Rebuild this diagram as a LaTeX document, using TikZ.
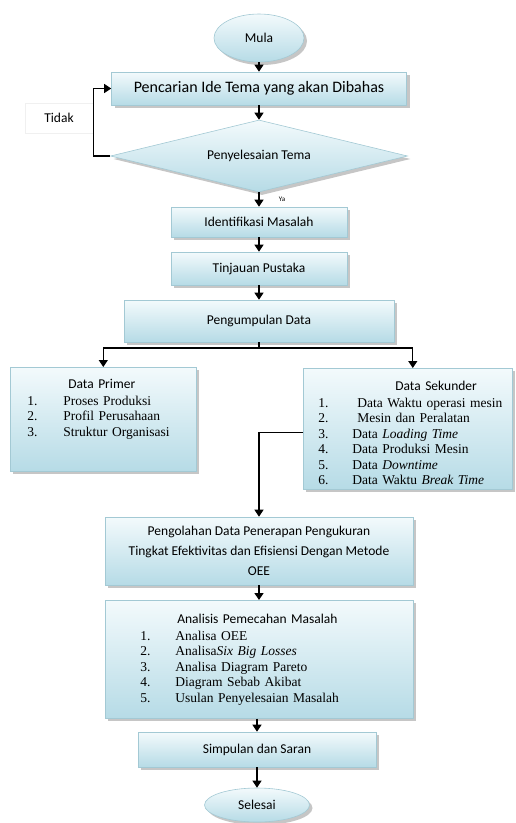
\documentclass[tikz,border=0pt]{standalone}
\usepackage{fontspec}
\setmainfont{Carlito}
\newfontfamily\tms{Liberation Serif}
\usetikzlibrary{arrows.meta,shapes.geometric,shadows}

\definecolor{boxtop}{HTML}{F3FAFC}
\definecolor{boxbot}{HTML}{B6DBE6}
\definecolor{boxline}{HTML}{A3C9D4}

% numbered line inside a box
\newcommand\itm[3][34pt]{\makebox[#1][l]{\tms #2}\mbox{\tms #3}}

\begin{document}
\begin{tikzpicture}[x=1pt,y=-1pt,
  font=\fontsize{13.5}{15.5}\selectfont,
  box/.style={draw=boxline,line width=0.6pt,top color=boxtop,bottom color=boxbot,
    drop shadow={shadow xshift=3pt,shadow yshift=-3pt,opacity=0.45}},
  listbox/.style={box,anchor=north west,inner ysep=0pt,align=left},
  flow/.style={-{Triangle[length=7pt,width=9pt]},line width=1.3pt}]
  \useasboundingbox (0,0) rectangle (515,823);

  \node[box,ellipse,minimum width=90pt,minimum height=48pt]   (MUL) at (259,38)    {Mula};
  \node[box,minimum width=295pt,minimum height=33pt,font=\fontsize{16}{18}\selectfont] (PIT) at (259,88.5) {Pencarian Ide Tema yang akan Dibahas};
  \node[box,diamond,aspect=4,minimum width=297pt,minimum height=72pt] (PT) at (259,156) {Penyelesaian Tema};
  \node[draw=black!6,line width=0.4pt,minimum width=68pt,minimum height=30pt] (TDK) at (59,118) {Tidak};
  \node[box,minimum width=176pt,minimum height=30pt]           (IM)  at (259,222)   {Identifikasi Masalah};
  \node[box,minimum width=176pt,minimum height=33pt]           (TP)  at (259,268.5) {Tinjauan Pustaka};
  \node[box,minimum width=270pt,minimum height=42pt]           (PD)  at (259,321)   {Pengumpulan Data};

  \node[listbox,inner xsep=17pt,text width=152pt,text height=21pt,text depth=83pt] (DP) at (10,367)
    {\hspace*{41pt}Data Primer\\[1.5pt]
     \itm[36pt]{1.}{Proses Produksi}\\
     \itm[36pt]{2.}{Profil Perusahaan}\\
     \itm[36pt]{3.}{Struktur Organisasi}};

  \node[listbox,inner xsep=15pt,text width=179pt,text height=22pt,text depth=99pt] (DS) at (303,368)
    {\hspace*{77pt}Data Sekunder\\[1.5pt]
     \itm[39pt]{1.}{Data Waktu operasi mesin}\\
     \itm[39pt]{2.}{Mesin dan Peralatan}\\
     \itm{3.}{Data \textit{Loading Time}}\\
     \itm{4.}{Data Produksi Mesin}\\
     \itm{5.}{Data \textit{Downtime}}\\
     \itm{6.}{Data Waktu \textit{Break Time}}};

  \node[box,align=center,minimum width=308pt,minimum height=68pt,font=\fontsize{13.5}{20}\selectfont] (PDO) at (259,551)
    {Pengolahan Data Penerapan Pengukuran\\Tingkat Efektivitas dan Efisiensi Dengan Metode\\OEE};

  \node[listbox,inner xsep=35pt,text width=238pt,text height=23pt,text depth=95pt] (APM) at (105,600)
    {\hspace*{37pt}Analisis Pemecahan Masalah\\[1.5pt]
     \itm[35pt]{1.}{Analisa OEE}\\
     \itm[35pt]{2.}{Analisa\textit{Six Big Losses}}\\
     \itm[35pt]{3.}{Analisa Diagram Pareto}\\
     \itm[35pt]{4.}{Diagram Sebab Akibat}\\
     \itm[35pt]{5.}{Usulan Penyelesaian Masalah}};

  \node[box,minimum width=238pt,minimum height=35pt]           (SDS) at (257,749.5) {Simpulan dan Saran};
  \node[box,ellipse,minimum width=105pt,minimum height=34pt]   (SEL) at (257,805)   {Selesai};

  \coordinate (BR) at (259,348);

  \draw[flow] (MUL) -- (PIT);
  \draw[flow] (PIT) -- (PT);
  \draw[flow] (PT.west) -- ++(-17,0) |- (PIT.west);
  \draw[flow] (PT) -- node[right=16pt,font=\scriptsize] (YA) {Ya} (IM);
  \draw[flow] (IM) -- (TP);
  \draw[flow] (TP) -- (PD);

  \draw[line width=1.3pt] (PD.south) -- (BR);
  \draw[flow] (BR) -| (DP.north);
  \draw[flow] (BR) -| ([xshift=5pt]DS.north);

  \draw[flow] ([yshift=-4pt]DS.west) -| (PDO.north);
  \draw[flow] (PDO) -- (APM.north -| PDO.south);
  \draw[flow] (APM.south -| SDS.north) -- (SDS.north);
  \draw[flow] (SDS) -- (SEL);

\end{tikzpicture}
\end{document}
